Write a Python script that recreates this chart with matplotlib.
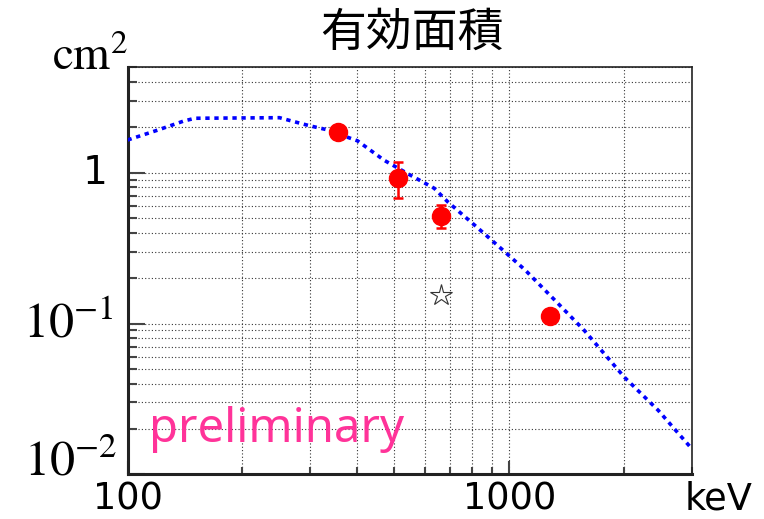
import matplotlib
matplotlib.use('Agg')
import matplotlib.pyplot as plt
import matplotlib.transforms as mtransforms
from matplotlib.ticker import LogLocator, NullFormatter

# ===== DATA =====
# simulated effective area (dotted blue curve)
curve_energy = [100, 120, 140, 150, 250, 270, 300, 330, 400, 470, 550, 635, 690,
                810, 950, 1100, 1300, 1570, 2000, 2450, 3000]
curve_area = [1.65, 1.92, 2.2, 2.3, 2.32, 2.2, 2.05, 1.94, 1.63, 1.21, 0.965, 0.79, 0.64,
              0.45, 0.315, 0.226, 0.147, 0.090, 0.044, 0.0266, 0.0148]

# measured points (red)
meas_energy = [356, 511, 662, 1275]
meas_area = [1.87, 0.926, 0.516, 0.112]
meas_err_low = [0.0, 0.25, 0.085, 0.0]
meas_err_high = [0.0, 0.254, 0.094, 0.0]

# open star point
star_energy = [662]
star_area = [0.154]

y_tick_vals = [1, 0.1, 0.01]
y_tick_text = ['1', r'$10^{-1}$', r'$10^{-2}$']
x_tick_vals = [100, 1000]
x_tick_text = ['100', '1000']

plt.rcParams['mathtext.fontset'] = 'stix'

# ===== PLOT =====
fig = plt.figure(figsize=(7.64, 5.19), dpi=100)
ax = fig.add_axes([0.1669, 0.0861, 0.7385, 0.7840])

ax.plot(curve_energy, curve_area, color='#0000ff', lw=2.6,
        linestyle=(0, (1.2, 1.3)), zorder=3)
ax.errorbar(meas_energy, meas_area, yerr=[meas_err_low, meas_err_high],
            fmt='o', color='#ff0000', ms=13, elinewidth=1.8, capsize=3.5,
            capthick=1.8, zorder=4)
ax.plot(star_energy, star_area, marker='*', ms=16, mfc='white', mec='#333333',
        mew=0.8, ls='none', zorder=4)

ax.set_xscale('log')
ax.set_yscale('log')
ax.set_xlim(100, 3000)
ax.set_ylim(0.01, 5)

ax.xaxis.set_major_locator(LogLocator(base=10))
ax.xaxis.set_minor_locator(LogLocator(base=10, subs=range(2, 10)))
ax.yaxis.set_major_locator(LogLocator(base=10))
ax.yaxis.set_minor_locator(LogLocator(base=10, subs=range(2, 10)))
ax.xaxis.set_major_formatter(NullFormatter())
ax.xaxis.set_minor_formatter(NullFormatter())
ax.yaxis.set_major_formatter(NullFormatter())
ax.yaxis.set_minor_formatter(NullFormatter())

ax.grid(True, which='both', color='#333333', lw=0.8, linestyle=(0, (1, 2)))
ax.tick_params(which='both', direction='in', top=False, right=False, color='#444444')
ax.tick_params(axis='y', which='major', length=12, width=1.5)
ax.tick_params(axis='y', which='minor', length=6.5, width=1.5)
ax.tick_params(axis='x', which='major', length=9.5, width=1.5)
ax.tick_params(axis='x', which='minor', length=5, width=1.5)

ax.spines['left'].set_linewidth(2.2)
ax.spines['bottom'].set_linewidth(2.2)
ax.spines['top'].set_linewidth(1.2)
ax.spines['right'].set_linewidth(1.2)
for s in ax.spines.values():
    s.set_color('#222222')

# ===== TICK LABELS =====
ytrans = mtransforms.blended_transform_factory(ax.transAxes, ax.transData)
ax.text(-0.036, y_tick_vals[0], y_tick_text[0], transform=ytrans, ha='right',
        va='center', fontsize=28, family='DejaVu Sans')
ax.text(-0.025, y_tick_vals[1], y_tick_text[1], transform=ytrans, ha='right',
        va='center', fontsize=36)
low_trans = mtransforms.offset_copy(ytrans, fig=fig, y=13, units='dots')
ax.text(-0.018, y_tick_vals[2], y_tick_text[2], transform=low_trans, ha='right',
        va='center', fontsize=36)

# x labels sit on a common baseline just above the figure's bottom edge
base_y = 1 - 510 / 519
xtrans = mtransforms.blended_transform_factory(ax.transData, fig.transFigure)
for xv, xt in zip(x_tick_vals, x_tick_text):
    ax.text(xv, base_y, xt, transform=xtrans, ha='center', va='baseline',
            fontsize=26.5, family='DejaVu Sans')

fig.text(685 / 764, base_y, 'keV', ha='left', va='baseline', fontsize=26.5,
         family='DejaVu Sans')
fig.text(52 / 764, 1 - 70 / 519, r'$\mathrm{cm}^2$', ha='left', va='baseline',
         fontsize=34)
fig.text(412 / 764, 1 - 32 / 519, '有効面積', ha='center', va='center',
         fontsize=33, family=['Noto Sans CJK JP', 'DejaVu Sans'])

ax.text(0.038, 0.08, 'preliminary', transform=ax.transAxes, ha='left',
        va='baseline', fontsize=34, color='#ff3399', family='Noto Sans', zorder=5)

fig.savefig('out.png', dpi=100)
